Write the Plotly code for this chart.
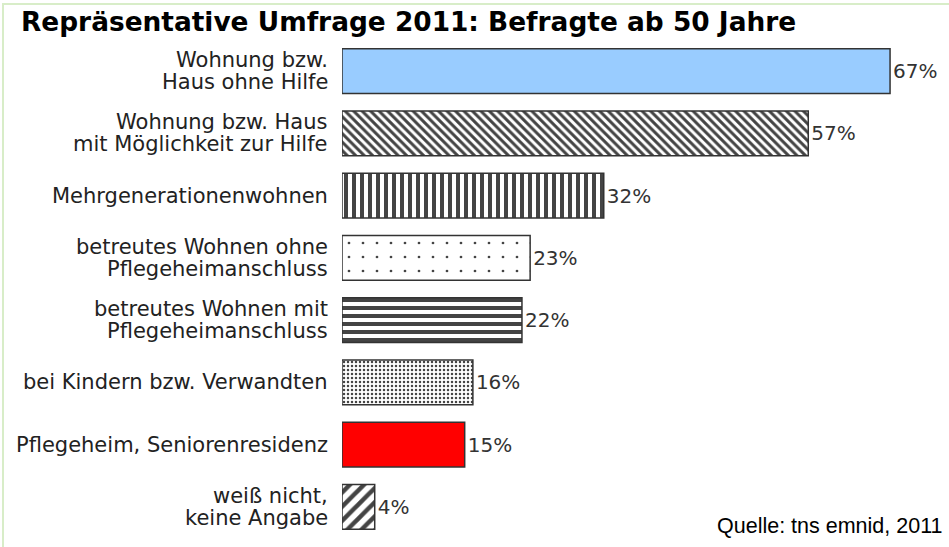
import plotly.graph_objects as go

# survey answers, top to bottom
categories = [
    "Wohnung bzw.<br>Haus ohne Hilfe",
    "Wohnung bzw. Haus<br>mit Möglichkeit zur Hilfe",
    "Mehrgenerationenwohnen",
    "betreutes Wohnen ohne<br>Pflegeheimanschluss",
    "betreutes Wohnen mit<br>Pflegeheimanschluss",
    "bei Kindern bzw. Verwandten",
    "Pflegeheim, Seniorenresidenz",
    "weiß nicht,<br>keine Angabe",
]
values = [67, 57, 32, 23, 22, 16, 15, 4]
value_labels = [f"{v}%" for v in values]

# fill style per bar (colour + hatch like the original print graphic)
bar_colors = ["#99ccff", "white", "white", "white", "white", "white", "#ff0000", "white"]
pattern_shapes = ["", "\\", "|", ".", "-", ".", "", "/"]
pattern_sizes = [8, 6, 8, 14, 8, 4, 8, 10]
pattern_solidity = [0.3, 0.5, 0.5, 0.03, 0.5, 0.3, 0.3, 0.45]

W, H = 949, 547
L, R, T, B = 342, 0, 40, 9
px_per_pct = 8.18
x_max = (W - L - R) / px_per_pct
plot_w = W - L - R
plot_h = H - T - B

LABEL_FONT = "DejaVu Sans, Verdana, sans-serif"

fig = go.Figure(go.Bar(
    x=values,
    y=list(range(len(categories))),
    orientation="h",
    text=value_labels,
    textposition="outside",
    cliponaxis=False,
    textfont=dict(family=LABEL_FONT, size=20, color="#333333"),
    marker=dict(
        color=bar_colors,
        line=dict(color="#333333", width=1.5),
        pattern=dict(
            shape=pattern_shapes,
            fgcolor="black",
            fgopacity=1,
            size=pattern_sizes,
            solidity=pattern_solidity,
        ),
    ),
))

# category labels, drawn line by line so the line spacing stays tight
for i, cat in enumerate(categories):
    lines = cat.split("<br>")
    n = len(lines)
    for j, line in enumerate(lines):
        fig.add_annotation(
            text=line, x=0, y=i, xref="paper", yref="y",
            xanchor="right", yanchor="middle", showarrow=False,
            xshift=-12, yshift=(n - 1) * 11 - j * 22,
            font=dict(family=LABEL_FONT, size=21, color="#222222"),
        )

# light green frame around the whole picture
fig.add_shape(
    type="rect", xref="paper", yref="paper",
    x0=(3 - L) / plot_w, x1=1.5,
    y0=-0.2, y1=(H - B - 4) / plot_h,
    line=dict(color="#d8edc8", width=2),
    fillcolor="rgba(0,0,0,0)",
    layer="below",
)

fig.add_annotation(
    text="<b>Repräsentative Umfrage 2011: Befragte ab 50 Jahre</b>",
    xref="paper", yref="paper",
    x=(19 - L) / plot_w, y=(H - B - 22) / plot_h,
    xanchor="left", yanchor="middle", showarrow=False,
    font=dict(family=LABEL_FONT, size=26.4, color="black"),
)
fig.add_annotation(
    text="Quelle: tns emnid, 2011",
    xref="paper", yref="paper",
    x=(945 - L) / plot_w, y=(H - B - 526) / plot_h,
    xanchor="right", yanchor="middle", showarrow=False,
    font=dict(family="Liberation Sans, Arial", size=21.5, color="black"),
)

fig.update_layout(
    width=W, height=H,
    margin=dict(l=L, r=R, t=T, b=B),
    paper_bgcolor="white",
    plot_bgcolor="white",
    bargap=0.28,
    showlegend=False,
    xaxis=dict(range=[0, x_max], visible=False, fixedrange=True),
    yaxis=dict(
        range=[len(categories) - 0.5, -0.5],
        visible=False, fixedrange=True,
    ),
)

fig.write_html(
    "out.html",
    config={"displayModeBar": False},
    post_script="document.body.style.margin='0';",
)
